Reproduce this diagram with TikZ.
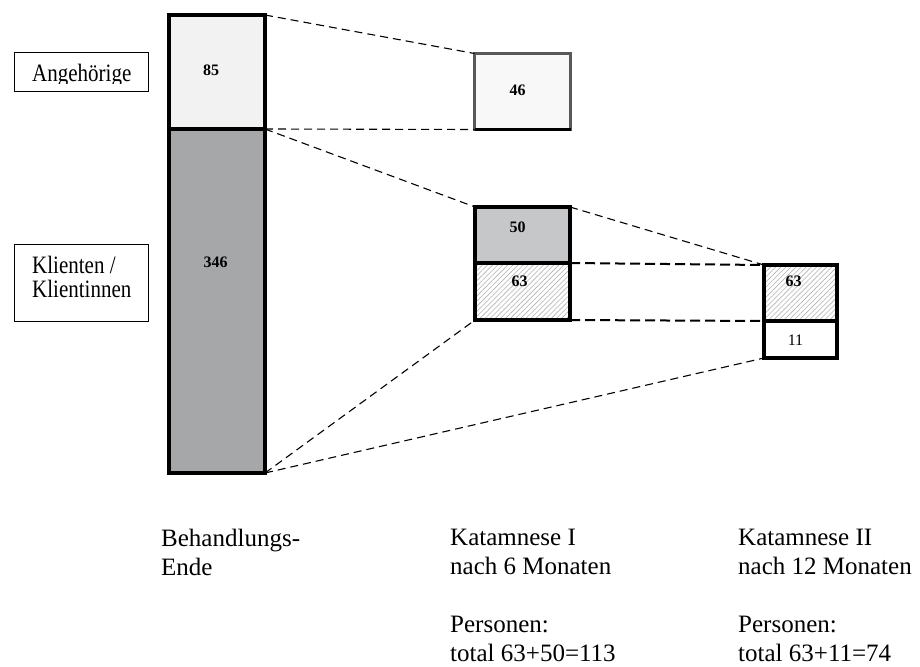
\documentclass[tikz,border=0pt]{standalone}
\usepackage{fontspec}
\setmainfont{Liberation Serif}
\newfontfamily\lblfont[FakeStretch=0.84]{Liberation Serif}
\usetikzlibrary{patterns.meta}
\definecolor{barlight}{HTML}{F2F2F2}
\definecolor{bardark}{HTML}{A6A7A9}
\definecolor{midgray}{HTML}{C6C7C9}
\definecolor{framegray}{HTML}{58585A}
\definecolor{boxwhite}{HTML}{F8F8F8}
\begin{document}
\begin{tikzpicture}[x=1pt, y=-1pt,
  cell/.style={draw, line width=3.8pt, inner sep=0pt, outer sep=0pt},
  frame/.style={draw, line width=1pt, inner sep=0pt, outer sep=0pt},
  num/.style={font=\fontsize{16}{18}\selectfont\bfseries, inner sep=0pt},
  caption/.style={font=\fontsize{25}{29}\selectfont, align=left, anchor=north west, inner sep=0pt},
  lbl/.style={font=\lblfont\fontsize{25}{24}\selectfont, align=left, inner sep=0pt},
  link/.style={dash pattern=on 8pt off 5pt, line width=1.1pt},
  hatch/.style={pattern={Lines[angle=45, distance=3.6pt, line width=0.6pt]}, pattern color=black!30}]
\fill[white] (0,0) rectangle (920,666);
\useasboundingbox (0,0) rectangle (920,666);
% legend boxes
\node[frame, minimum width=134pt, minimum height=39pt] (angbox) at (81.5,72) {};
\begin{scope}
  \clip (14,52) rectangle (149,83.5);
  \node[lbl, anchor=base west] (ang) at (32,82) {Angehörige};
\end{scope}
\node[frame, minimum width=134pt, minimum height=77pt] (klbox) at (81.5,283) {};
\node[lbl, anchor=north west] (kl) at (32,256) {Klienten /\\Klientinnen};
% columns
\node[cell, fill=barlight, minimum width=96pt, minimum height=114pt] (c85) at (217,72) {};
\node[cell, fill=bardark, minimum width=96pt, minimum height=344pt] (c346) at (217,301) {};
\node[cell, draw=framegray, line width=3pt, fill=boxwhite, minimum width=96pt, minimum height=76pt] (c46) at (522.5,91.5) {};
\draw[line width=3pt] (c46.south west) -- (c46.south east);
\node[cell, fill=midgray, minimum width=95pt, minimum height=56pt] (c50) at (522.5,235) {};
\node[cell, hatch, minimum width=95pt, minimum height=57pt] (c63a) at (522.5,291.5) {};
\node[cell, hatch, minimum width=73pt, minimum height=56pt] (c63b) at (800.5,293) {};
\node[cell, minimum width=73pt, minimum height=37pt] (c11) at (800.5,339.5) {};
\node[num] (t85) at (211,70.5) {85};
\node[num] (t346) at (215.5,262.5) {346};
\node[num] (t46) at (517.5,90) {46};
\node[num] (t50) at (517.5,227.5) {50};
\node[num] (t63a) at (519.5,281.5) {63};
\node[num] (t63b) at (793.5,281.5) {63};
\node[num, font=\fontsize{16}{18}\selectfont] (t11) at (795.5,340.5) {11};
% links
\draw[link] (c85.north east) -- (c46.north west);
\draw[link] (c85.south east) -- (c46.south west);
\draw[link] (c346.north east) -- (c50.north west);
\draw[link] (c346.south east) -- (c63a.south west);
\draw[link] (c346.south east) -- (c11.south west);
\draw[link] (c50.north east) -- (c63b.north west);
\draw[link, line width=2pt, dash pattern=on 10pt off 5pt] (c63a.north east) -- (c63b.north west);
\draw[link, line width=2pt, dash pattern=on 10pt off 5pt] (c63a.south east) -- (c63b.south west);
% captions
\node[caption] (cap1) at (161,529) {Behandlungs-\\Ende};
\node[caption] (cap2) at (450,529) {Katamnese I\\nach 6 Monaten\\[29pt]Personen:\\total 63+50=113};
\node[caption] (cap3) at (738,529) {Katamnese II\\nach 12 Monaten\\[29pt]Personen:\\total 63+11=74};
\end{tikzpicture}
\end{document}
